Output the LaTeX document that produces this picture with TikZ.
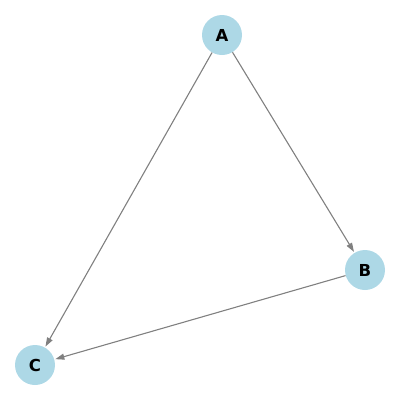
\documentclass[tikz,border=0pt]{standalone}
\usepackage{fontspec}
\setmainfont{DejaVu Sans}
\usetikzlibrary{arrows.meta}
\definecolor{nodeblue}{HTML}{ADD8E6}
\begin{document}
\begin{tikzpicture}[x=1pt,y=-1pt,
  vertex/.style={circle,fill=nodeblue,minimum size=40pt,inner sep=0pt,font=\fontsize{16.5}{18}\selectfont\bfseries},
  edge/.style={draw=gray,line width=1.1pt,-{Triangle[length=9pt,width=6pt]},shorten >=1pt}]
\useasboundingbox (0,0) rectangle (400,400);
\node[vertex] (A) at (222,35) {A};
\node[vertex] (B) at (365,270) {B};
\node[vertex] (C) at (35,365) {C};
\draw[edge] (A) -- (B);
\draw[edge] (A) -- (C);
\draw[edge] (B) -- (C);
\end{tikzpicture}
\end{document}
